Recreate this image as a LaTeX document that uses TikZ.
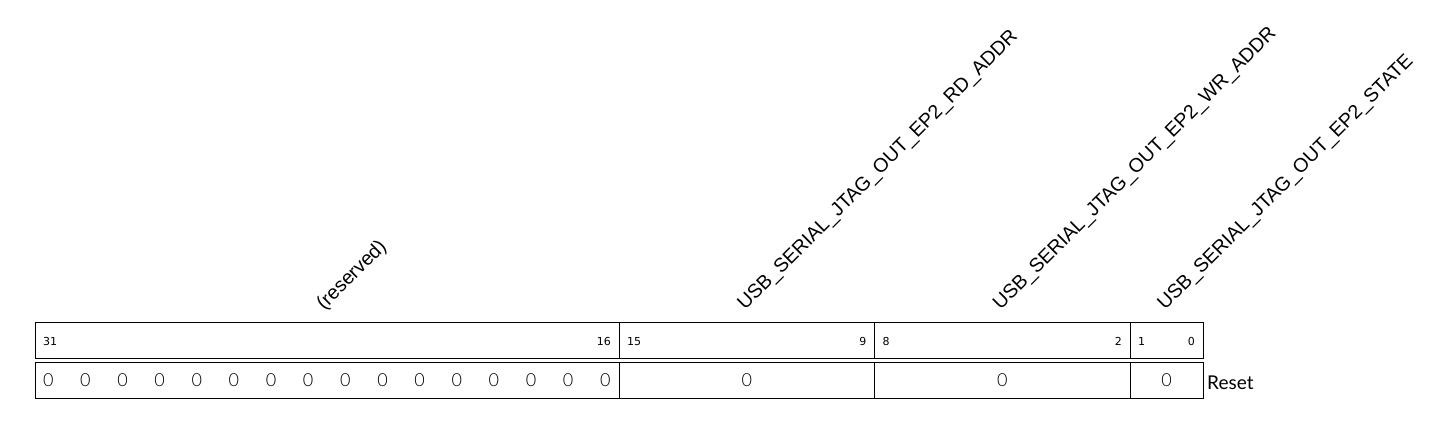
\documentclass[tikz,border=0pt]{standalone}
\usepackage{fontspec}
\setmainfont{Liberation Sans}
\newfontfamily\bitfont{DejaVu Sans}
\newfontfamily\latofont{Lato}
\newfontfamily\zerofont{Lato Light}
\begin{document}
\begin{tikzpicture}[x=1pt,y=1pt,
  cell/.style={draw=black, line width=0.9pt, minimum height=36pt, inner sep=0pt, outer sep=0pt},
  bitnum/.style={font=\bitfont\fontsize{11}{13}\selectfont, inner sep=0pt},
  zero/.style={font=\zerofont\fontsize{18}{20}\selectfont, inner sep=0pt},
  fieldlabel/.style={font=\fontsize{19.6}{22}\selectfont, rotate=45, anchor=base west, inner sep=0pt},
  resetlabel/.style={font=\latofont\fontsize{19}{22}\selectfont, anchor=base west, inner sep=0pt}
]
\useasboundingbox (0,0) rectangle (1445,422);
% top row (bit numbers)
\node[cell, minimum width=584pt] (b31) at (327,81.7) {};
\node[cell, minimum width=255.5pt] (b15) at (746.75,81.7) {};
\node[cell, minimum width=255.5pt] (b8) at (1002.25,81.7) {};
\node[cell, minimum width=73pt] (b1) at (1166.5,81.7) {};
% bottom row (reset values)
\node[cell, minimum width=584pt] (v31) at (327,41.2) {};
\node[cell, minimum width=255.5pt] (v15) at (746.75,41.2) {};
\node[cell, minimum width=255.5pt] (v8) at (1002.25,41.2) {};
\node[cell, minimum width=73pt] (v1) at (1166.5,41.2) {};
% bit numbers
\node[bitnum, anchor=west] (n31) at ([xshift=8pt,yshift=-1.4pt]b31.west) {31};
\node[bitnum, anchor=east] (n16) at ([xshift=-8pt,yshift=-1.4pt]b31.east) {16};
\node[bitnum, anchor=west] (n15) at ([xshift=8pt,yshift=-1.4pt]b15.west) {15};
\node[bitnum, anchor=east] (n9) at ([xshift=-8pt,yshift=-1.4pt]b15.east) {9};
\node[bitnum, anchor=west] (n8) at ([xshift=8pt,yshift=-1.4pt]b8.west) {8};
\node[bitnum, anchor=east] (n2) at ([xshift=-8pt,yshift=-1.4pt]b8.east) {2};
\node[bitnum, anchor=west] (n1) at ([xshift=8pt,yshift=-1.4pt]b1.west) {1};
\node[bitnum, anchor=east] (n0) at ([xshift=-8pt,yshift=-1.4pt]b1.east) {0};
% reset values
\foreach \i in {0,...,15} {
  \node[zero] (z\i) at (48.3+\i*37.13,42) {0};
}
\node[zero] (z15b) at ([yshift=0.8pt]v15.center) {0};
\node[zero] (z8b) at ([yshift=0.8pt]v8.center) {0};
\node[zero] (z1b) at ([yshift=0.8pt]v1.center) {0};
\node[resetlabel] (reset) at (1207,32) {Reset};
% field labels
\node[fieldlabel] (l1) at (324,111) {(reserved)};
\node[fieldlabel] (l2) at (745,111) {USB\_SERIAL\_JTAG\_OUT\_EP2\_RD\_ADDR};
\node[fieldlabel] (l3) at (1000.5,111) {USB\_SERIAL\_JTAG\_OUT\_EP2\_WR\_ADDR};
\node[fieldlabel] (l4) at (1165,111) {USB\_SERIAL\_JTAG\_OUT\_EP2\_STATE};
\end{tikzpicture}
\end{document}
